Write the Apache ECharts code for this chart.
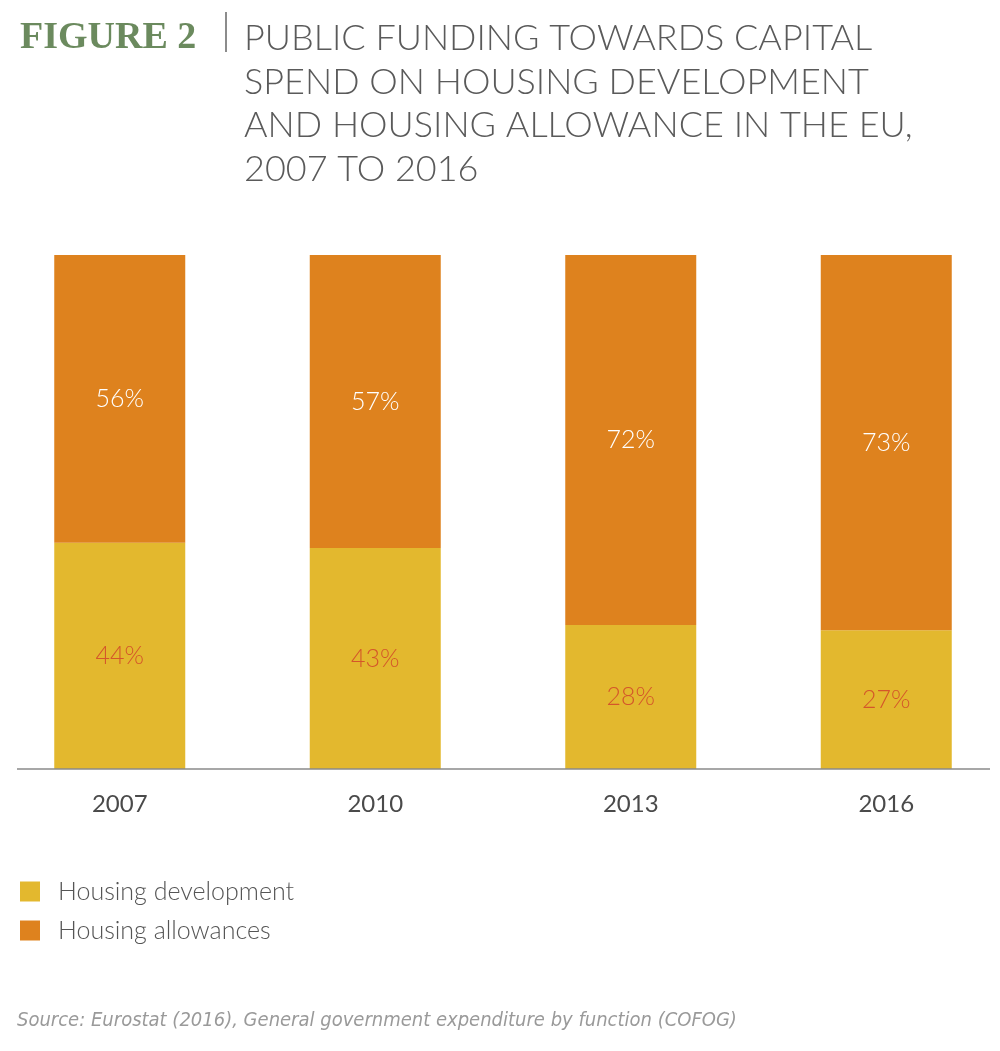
<!DOCTYPE html>
<html><head><meta charset="utf-8">
<script src="https://cdn.jsdelivr.net/npm/echarts@6/dist/echarts.min.js"></script>
<style>html,body{margin:0;padding:0;background:#fff}#c{width:1000px;height:1051px}</style>
</head><body><div id="c"></div>
<script>
const years = ['2007', '2010', '2013', '2016'];
const development = [44, 43, 28, 27];
const allowances = [56, 57, 72, 73];
const seriesNames = ['Housing development', 'Housing allowances'];
const titleLines = ['PUBLIC FUNDING TOWARDS CAPITAL', 'SPEND ON HOUSING DEVELOPMENT', 'AND HOUSING ALLOWANCE IN THE EU,', '2007 TO 2016'];
const sourceText = 'Source: Eurostat (2016), General government expenditure by function (COFOG)';

const chart = echarts.init(document.getElementById('c'), null, {renderer: 'canvas'});
const font = 'Lato';
chart.setOption({
  animation: false,
  backgroundColor: '#fff',
  title: [
    {text: 'FIGURE 2', left: 20, top: 19, padding: 0, textStyle: {fontFamily: 'Liberation Serif', fontWeight: 'bold', fontSize: 38, color: '#6b8a5e'}},
    {text: titleLines.join('\n'), left: 244, top: 17, padding: 0, textStyle: {fontFamily: font, fontWeight: 300, fontSize: 36, lineHeight: 43.5, color: '#5a5a5a'}},
    {text: sourceText, left: 17, top: 1011, padding: 0, textStyle: {fontFamily: '"DejaVu Sans Condensed", "Liberation Sans Narrow", sans-serif', fontStyle: 'italic', fontWeight: 'normal', fontSize: 20, color: '#9a9a9a'}}
  ],
  graphic: [
    {type: 'line', shape: {x1: 226, y1: 12, x2: 226, y2: 52}, style: {stroke: '#666', lineWidth: 1.5}},
    {type: 'line', shape: {x1: 17, y1: 769, x2: 990, y2: 769}, style: {stroke: '#8a8a8a', lineWidth: 1.5}, z: 10}
  ],
  legend: {
    orient: 'vertical', left: 20, top: 879, padding: 0,
    itemWidth: 20, itemHeight: 20, itemGap: 14, icon: 'rect',
    data: seriesNames,
    textStyle: {fontFamily: font, fontWeight: 300, fontSize: 25, color: '#555', padding: [0, 0, 0, 13]}
  },
  grid: {left: -8, width: 1022, top: 255, bottom: 1051 - 769, outerBoundsMode: 'none', containLabel: false},
  xAxis: {
    type: 'category', data: years,
    axisLine: {show: false}, axisTick: {show: false},
    axisLabel: {fontFamily: font, fontSize: 24, color: '#4a4a4a', margin: 23}
  },
  yAxis: {type: 'value', min: 0, max: 100, show: false, splitLine: {show: false}},
  series: [
    {name: seriesNames[0], type: 'bar', stack: 'a', data: development, barWidth: 131,
     itemStyle: {color: '#E3B82E'},
     label: {show: true, position: 'inside', formatter: '{c}%', fontFamily: font, fontWeight: 300, fontSize: 25, color: '#D4562A'}},
    {name: seriesNames[1], type: 'bar', stack: 'a', data: allowances, barWidth: 131,
     itemStyle: {color: '#DE821E'},
     label: {show: true, position: 'inside', formatter: '{c}%', fontFamily: font, fontWeight: 300, fontSize: 25, color: '#fff'}}
  ]
});
</script></body></html>
